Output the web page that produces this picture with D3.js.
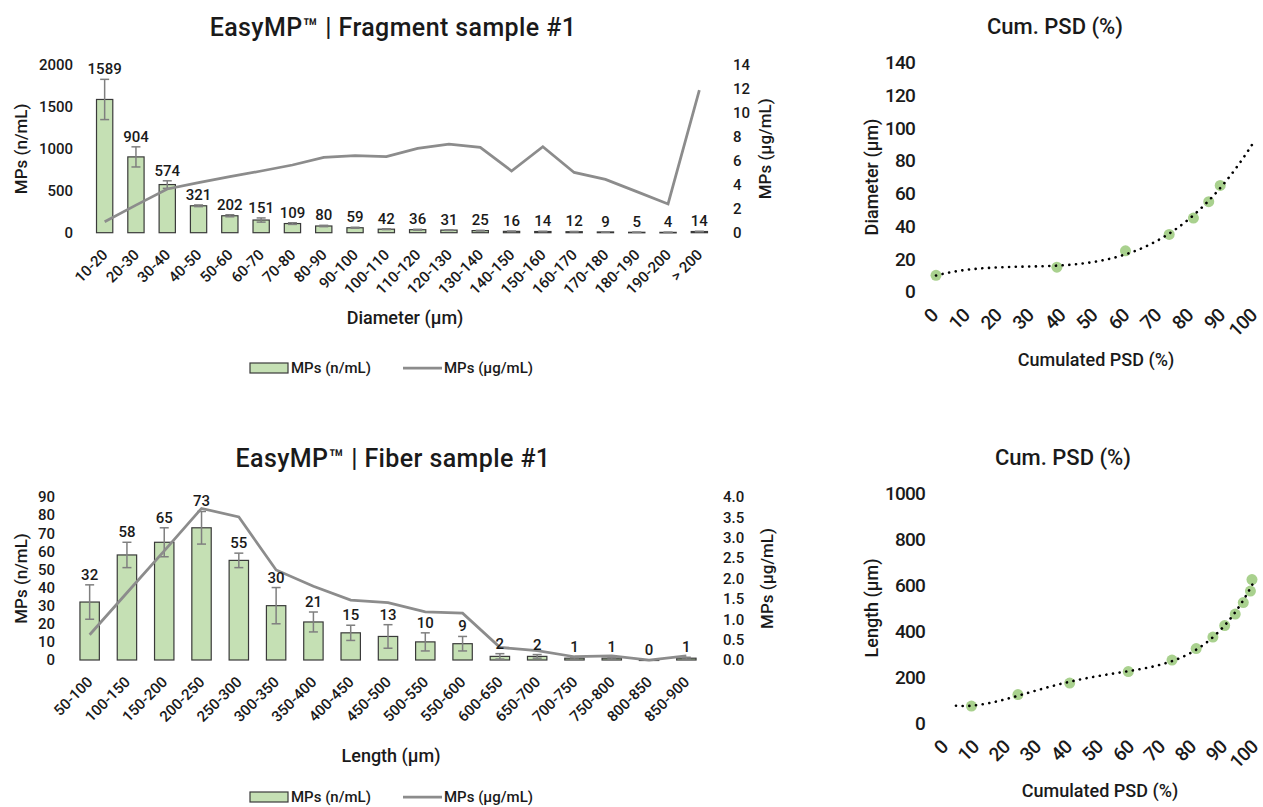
<!DOCTYPE html>
<html>
<head>
<meta charset="utf-8">
<script src="https://cdn.jsdelivr.net/npm/d3@7"></script>
<style>
  body { margin: 0; background: #fff; }
  svg { font-family: Roboto, sans-serif; font-weight: 500; fill: #1a1a1a; }
  .tick text { fill: #1a1a1a; }
</style>
</head>
<body>
<svg id="chart" width="1263" height="807"></svg>
<script>
// Fragment sample #1
const fragmentCategories = ['10-20', '20-30', '30-40', '40-50', '50-60', '60-70', '70-80', '80-90', '90-100', '100-110',
  '110-120', '120-130', '130-140', '140-150', '150-160', '160-170', '170-180', '180-190', '190-200', '> 200'];
const fragmentCount = [1589, 904, 574, 321, 202, 151, 109, 80, 59, 42, 36, 31, 25, 16, 14, 12, 9, 5, 4, 14];
const fragmentCountErr = [240, 120, 45, 10, 12, 25, 10, 8, 6, 5, 5, 4, 4, 3, 3, 3, 2, 1, 1, 3];
const fragmentMass = [0.92, 2.3, 3.65, 4.18, 4.68, 5.15, 5.65, 6.29, 6.43, 6.35, 7.04, 7.40, 7.12, 5.15, 7.18, 5.03, 4.45, 3.43, 2.40, 11.9];

// Fiber sample #1
const fiberCategories = ['50-100', '100-150', '150-200', '200-250', '250-300', '300-350', '350-400', '400-450', '450-500',
  '500-550', '550-600', '600-650', '650-700', '700-750', '750-800', '800-850', '850-900'];
const fiberCount = [32, 58, 65, 73, 55, 30, 21, 15, 13, 10, 9, 2, 2, 1, 1, 0, 1];
const fiberCountErr = [9.5, 7, 8, 9, 4, 10, 5.5, 4.2, 6.5, 5, 4, 1.5, 1, 0.5, 0.5, 0, 0.5];
const fiberMass = [0.62, 1.65, 2.68, 3.72, 3.51, 2.21, 1.81, 1.47, 1.41, 1.18, 1.15, 0.31, 0.23, 0.08, 0.10, 0.0, 0.10];

// cumulated PSD points
const fragmentPsdX = [0, 37.9, 59.4, 73.1, 80.7, 85.5, 89.1];
const fragmentPsdY = [10, 15, 25, 35, 45, 55, 65];
const fiberPsdX = [8.2, 23.2, 39.9, 58.8, 72.9, 80.7, 86.1, 89.9, 93.3, 95.9, 98.2, 98.7];
const fiberPsdY = [75, 125, 175, 225, 275, 325, 375, 425, 475, 525, 575, 625];

const psdTicksX = [0, 10, 20, 30, 40, 50, 60, 70, 80, 90, 100];

const svg = d3.select('#chart');

// bars + line on two y axes
function comboChart(opt) {
  const g = svg.append('g');
  const x = d3.scaleBand()
    .domain(opt.categories)
    .range([opt.x0, opt.x1])
    .paddingInner(0.48)
    .paddingOuter(0.24);
  const yL = d3.scaleLinear().domain([0, opt.leftMax]).range([opt.y0, opt.y1]);
  const yR = d3.scaleLinear().domain([0, opt.rightMax]).range([opt.y0, opt.y1]);
  const cx = d => x(d) + x.bandwidth() / 2;

  // title
  g.append('text')
    .attr('x', opt.titleX).attr('y', opt.titleY)
    .attr('text-anchor', 'middle')
    .style('font-size', '25px')
    .style('letter-spacing', '0.4px')
    .text(opt.title);

  // left axis
  const axL = g.append('g')
    .attr('transform', `translate(${opt.x0 - 16},0)`)
    .call(d3.axisLeft(yL).tickValues(opt.leftTicks).tickSize(0).tickPadding(0).tickFormat(opt.leftFormat));
  axL.select('.domain').remove();
  axL.selectAll('text').style('font-size', '15px').style('font-family', 'Roboto');

  // right axis
  const axR = g.append('g')
    .attr('transform', `translate(${opt.x1 + 18},0)`)
    .call(d3.axisRight(yR).tickValues(opt.rightTicks).tickSize(0).tickPadding(0).tickFormat(opt.rightFormat));
  axR.select('.domain').remove();
  axR.selectAll('text').style('font-size', '15px').style('font-family', 'Roboto');

  // axis titles
  g.append('text')
    .attr('transform', `translate(${opt.leftTitleX},${(opt.y0 + opt.y1) / 2}) rotate(-90)`)
    .attr('text-anchor', 'middle').attr('dy', '0.35em')
    .style('font-size', '17px')
    .text('MPs (n/mL)');
  g.append('text')
    .attr('transform', `translate(${opt.rightTitleX},${(opt.y0 + opt.y1) / 2}) rotate(-90)`)
    .attr('text-anchor', 'middle').attr('dy', '0.35em')
    .style('font-size', '17px')
    .text('MPs (µg/mL)');

  // bars
  g.selectAll('.bar')
    .data(opt.categories)
    .enter()
    .append('rect')
    .attr('x', d => x(d))
    .attr('width', x.bandwidth())
    .attr('y', (d, i) => yL(opt.count[i]))
    .attr('height', (d, i) => Math.max(0.5, opt.y0 - yL(opt.count[i])))
    .attr('fill', '#c5e0b4')
    .attr('stroke', '#3a3a3a')
    .attr('stroke-width', 1.2);

  // error bars
  const eb = g.selectAll('.err')
    .data(opt.categories)
    .enter()
    .append('g')
    .attr('stroke', '#7f7f7f')
    .attr('stroke-width', 1.5);
  eb.append('line')
    .attr('x1', d => cx(d)).attr('x2', d => cx(d))
    .attr('y1', (d, i) => yL(opt.count[i] - opt.err[i]))
    .attr('y2', (d, i) => yL(opt.count[i] + opt.err[i]));
  eb.append('line')
    .attr('x1', d => cx(d) - 4.5).attr('x2', d => cx(d) + 4.5)
    .attr('y1', (d, i) => yL(opt.count[i] + opt.err[i]))
    .attr('y2', (d, i) => yL(opt.count[i] + opt.err[i]));
  eb.append('line')
    .attr('x1', d => cx(d) - 4.5).attr('x2', d => cx(d) + 4.5)
    .attr('y1', (d, i) => yL(opt.count[i] - opt.err[i]))
    .attr('y2', (d, i) => yL(opt.count[i] - opt.err[i]));

  // mass line
  const line = d3.line()
    .x((d, i) => cx(opt.categories[i]))
    .y(d => yR(d));
  g.append('path')
    .datum(opt.mass)
    .attr('fill', 'none')
    .attr('stroke', '#8c8c8c')
    .attr('stroke-width', 2.75)
    .attr('d', line);

  // value labels
  g.selectAll('.val')
    .data(opt.categories)
    .enter()
    .append('text')
    .attr('x', d => cx(d))
    .attr('y', (d, i) => yL(opt.count[i] + opt.err[i]) - 5)
    .attr('text-anchor', 'middle')
    .style('font-size', '15px')
    .text((d, i) => opt.count[i]);

  // category labels
  g.selectAll('.cat')
    .data(opt.categories)
    .enter()
    .append('text')
    .attr('transform', d => `translate(${cx(d) + 4},${opt.y0 + 23}) rotate(-45)`)
    .attr('text-anchor', 'end')
    .style('font-size', '15px')
    .text(d => d);

  // x title
  g.append('text')
    .attr('x', opt.xTitleX).attr('y', opt.xTitleY)
    .attr('text-anchor', 'middle')
    .style('font-size', '18px')
    .text(opt.xTitle);

  // legend
  const lg = g.append('g').attr('transform', `translate(250,${opt.legendY})`);
  lg.append('rect')
    .attr('x', 0).attr('y', -5).attr('width', 38).attr('height', 10)
    .attr('fill', '#c5e0b4').attr('stroke', '#3a3a3a').attr('stroke-width', 1.2);
  lg.append('text').attr('x', 41).attr('dy', '0.35em').style('font-size', '15px').text('MPs (n/mL)');
  lg.append('line')
    .attr('x1', 153).attr('x2', 192).attr('y1', 0).attr('y2', 0)
    .attr('stroke', '#8c8c8c').attr('stroke-width', 2.75);
  lg.append('text').attr('x', 194).attr('dy', '0.35em').style('font-size', '15px').text('MPs (µg/mL)');
}

// least squares polynomial (Excel style trendline)
function polyfit(xs, ys, order) {
  const n = order + 1;
  const A = Array.from({ length: n }, () => new Array(n + 1).fill(0));
  xs.forEach((xv, k) => {
    const t = xv / 100;
    for (let i = 0; i < n; i++) {
      for (let j = 0; j < n; j++) A[i][j] += Math.pow(t, i + j);
      A[i][n] += Math.pow(t, i) * ys[k];
    }
  });
  for (let c = 0; c < n; c++) {
    let p = c;
    for (let r = c + 1; r < n; r++) if (Math.abs(A[r][c]) > Math.abs(A[p][c])) p = r;
    [A[c], A[p]] = [A[p], A[c]];
    for (let r = 0; r < n; r++) {
      if (r === c) continue;
      const f = A[r][c] / A[c][c];
      for (let k = c; k <= n; k++) A[r][k] -= f * A[c][k];
    }
  }
  const coef = A.map((row, i) => row[n] / row[i]);
  return xv => coef.reduce((s, cf, i) => s + cf * Math.pow(xv / 100, i), 0);
}

// cumulated PSD scatter with trendline
function psdChart(opt) {
  const g = svg.append('g');
  const x = d3.scaleLinear().domain([0, 100]).range([opt.x0, opt.x1]);
  const y = d3.scaleLinear().domain([0, opt.yMax]).range([opt.y0, opt.y1]);

  g.append('text')
    .attr('x', opt.titleX).attr('y', opt.titleY)
    .attr('text-anchor', 'middle')
    .style('font-size', '22px')
    .text('Cum. PSD (%)');

  const ay = g.append('g')
    .attr('transform', `translate(${opt.yLabelX},0)`)
    .call(d3.axisLeft(y).tickValues(opt.yTicks).tickSize(0).tickPadding(0).tickFormat(d3.format('d')));
  ay.select('.domain').remove();
  ay.selectAll('text').style('font-size', '19px').style('font-family', 'Roboto').style('letter-spacing', '-0.8px');

  g.selectAll('.xl')
    .data(psdTicksX)
    .enter()
    .append('text')
    .attr('transform', d => `translate(${x(d) + 3},${opt.y0 + 25}) rotate(-45)`)
    .attr('text-anchor', 'end')
    .style('font-size', '19px')
    .style('letter-spacing', '-0.8px')
    .text(d => d);

  g.append('text')
    .attr('transform', `translate(${opt.yTitleX},${opt.yTitleY}) rotate(-90)`)
    .attr('text-anchor', 'middle').attr('dy', '0.35em')
    .style('font-size', '18px')
    .text(opt.yTitle);
  g.append('text')
    .attr('x', opt.xTitleX).attr('y', opt.xTitleY)
    .attr('text-anchor', 'middle')
    .style('font-size', '18px')
    .text('Cumulated PSD (%)');

  g.selectAll('.pt')
    .data(opt.xs)
    .enter()
    .append('circle')
    .attr('cx', d => x(d))
    .attr('cy', (d, i) => y(opt.ys[i]))
    .attr('r', 5.5)
    .attr('fill', '#a9d18e');

  const fit = polyfit(opt.xs, opt.ys, opt.order);
  const samples = d3.range(opt.trendFrom, 100.01, 0.5);
  g.append('path')
    .datum(samples)
    .attr('fill', 'none')
    .attr('stroke', '#000')
    .attr('stroke-width', 2.6)
    .attr('stroke-linecap', 'round')
    .attr('stroke-dasharray', '0.1 6.6')
    .attr('d', d3.line().x(d => x(d)).y(d => y(fit(d))));
}

comboChart({
  title: 'EasyMP™ | Fragment sample #1', titleX: 393, titleY: 36,
  categories: fragmentCategories, count: fragmentCount, err: fragmentCountErr, mass: fragmentMass,
  x0: 89, x1: 715, y0: 232.7, y1: 65,
  leftMax: 2000, rightMax: 14,
  leftTicks: [0, 500, 1000, 1500, 2000], rightTicks: [0, 2, 4, 6, 8, 10, 12, 14],
  leftFormat: d3.format('d'), rightFormat: d3.format('d'),
  leftTitleX: 21, rightTitleX: 765,
  xTitle: 'Diameter (µm)', xTitleX: 405, xTitleY: 324,
  legendY: 368
});

comboChart({
  title: 'EasyMP™ | Fiber sample #1', titleX: 393, titleY: 467,
  categories: fiberCategories, count: fiberCount, err: fiberCountErr, mass: fiberMass,
  x0: 71, x1: 705, y0: 660, y1: 497,
  leftMax: 90, rightMax: 4,
  leftTicks: d3.range(0, 91, 10), rightTicks: d3.range(0, 4.01, 0.5),
  leftFormat: d3.format('d'), rightFormat: d3.format('.1f'),
  leftTitleX: 21, rightTitleX: 767,
  xTitle: 'Length (µm)', xTitleX: 391, xTitleY: 762,
  legendY: 797
});

psdChart({
  titleX: 1055, titleY: 34,
  x0: 936, x1: 1255, y0: 291.7, y1: 62.7, yMax: 140,
  yTicks: [0, 20, 40, 60, 80, 100, 120, 140], yLabelX: 915,
  yTitle: 'Diameter (µm)', yTitleX: 872, yTitleY: 177,
  xTitleX: 1096, xTitleY: 366,
  xs: fragmentPsdX, ys: fragmentPsdY, order: 3, trendFrom: 0
});

psdChart({
  titleX: 1063, titleY: 465,
  x0: 946, x1: 1256, y0: 723.3, y1: 493.3, yMax: 1000,
  yTicks: [0, 200, 400, 600, 800, 1000], yLabelX: 925,
  yTitle: 'Length (µm)', yTitleX: 872, yTitleY: 608,
  xTitleX: 1100, xTitleY: 797,
  xs: fiberPsdX, ys: fiberPsdY, order: 4, trendFrom: 3.2
});
</script>
</body>
</html>
